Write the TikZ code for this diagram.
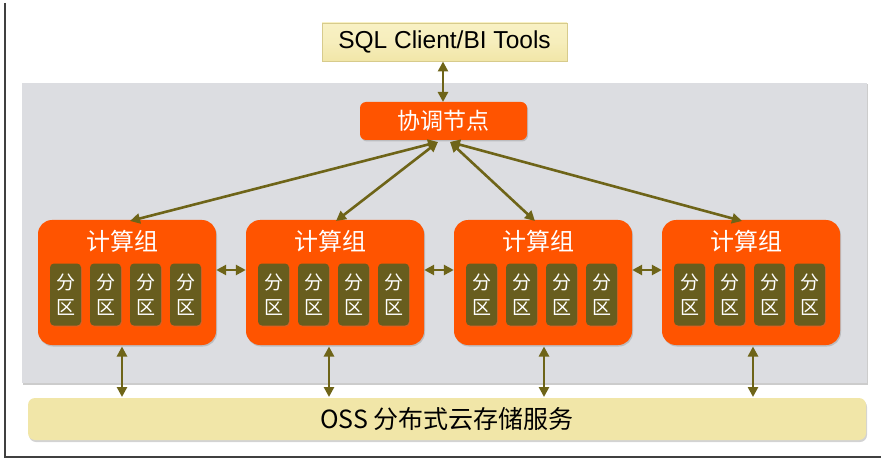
\documentclass[tikz,border=0pt]{standalone}
\usepackage{fontspec}
\setmainfont{Liberation Sans}
\newfontfamily\cjk{Noto Sans CJK SC}
\usetikzlibrary{arrows.meta,shadows,calc}
\definecolor{orng}{RGB}{255,84,0}
\definecolor{olivebox}{RGB}{104,93,30}
\definecolor{arrowc}{RGB}{110,100,24}
\definecolor{bandgray}{RGB}{220,221,225}
\definecolor{cream}{RGB}{241,230,168}
\definecolor{creamtop}{RGB}{248,241,196}
\definecolor{creamedge}{RGB}{215,203,140}
\tikzset{
  orangebox/.style={fill=orng, rounded corners=#1, draw=none,
    drop shadow={shadow xshift=1pt, shadow yshift=-1.5pt, opacity=0.35}},
  partbox/.style={fill=olivebox, rounded corners=4pt, minimum width=31pt, minimum height=62pt,
    inner sep=0pt, text=white, font=\cjk\fontsize{19}{25}\selectfont, align=center,
    drop shadow={shadow xshift=0.8pt, shadow yshift=-1pt, opacity=0.3}},
  link/.style={draw=arrowc, line width=2.6pt,
    {Triangle[width=10pt,length=10pt]}-{Triangle[width=10pt,length=10pt]}},
  grouptitle/.style={text=white, font=\cjk\fontsize{24}{24}\selectfont, inner sep=0pt},
}
\begin{document}
\begin{tikzpicture}[x=1pt,y=-1pt]
\useasboundingbox (0,0) rectangle (886,465);
% frame lines
\draw[line width=1.3pt, black!75] (5,3) -- (5,457) -- (881,457);
% gray band
\fill[bandgray, drop shadow={shadow xshift=1pt, shadow yshift=-1.5pt, opacity=0.4}] (22,83) rectangle (867,383);
% SQL box
\node[draw=creamedge, top color=creamtop, bottom color=cream, middle color=creamtop!70!cream,
  minimum width=245pt, minimum height=38pt, inner sep=0pt,
  font=\fontsize{24.5}{24.5}\selectfont,
  drop shadow={shadow xshift=1pt, shadow yshift=-1.5pt, opacity=0.3}]
  (sql) at (444.5,42) {SQL Client/BI Tools};
% coordinator
\node[orangebox=6pt, minimum width=167pt, minimum height=38pt, inner sep=0pt,
  text=white, font=\cjk\fontsize{23}{23}\selectfont] (coord) at (443.5,121) {协调节点};
% OSS
\node[fill=cream, rounded corners=7pt, minimum width=838pt, minimum height=42pt, inner sep=0pt,
  font=\cjk\fontsize{25}{25}\selectfont,
  drop shadow={shadow xshift=1pt, shadow yshift=-2pt, opacity=0.35}]
  (oss) at (447,419) {OSS 分布式云存储服务};
% groups
\foreach \i/\cx in {1/127,2/335,3/543,4/751}{
  \node[orangebox=14pt, minimum width=178pt, minimum height=125pt, inner sep=0pt] (g\i) at (\cx,282.5) {};
  \node[grouptitle] (t\i) at (\cx-5,241) {计算组};
  \foreach \j/\dx in {1/-60,2/-20,3/20,4/60}{
    \node[partbox] (p\i\j) at (\cx+\dx-1.5,294.5) {分\\区};
  }
}
% coordinates for connectors
\coordinate (sqlb) at (443,61.5);
\coordinate (coordt) at (443,102);
\coordinate (cl) at (438,142);
\coordinate (cr) at (450,142);
\coordinate (g1t) at (130,221);
\coordinate (g2t) at (336,221);
\coordinate (g3t) at (535,221);
\coordinate (g4t) at (742,221);
\draw[link] (sqlb) -- (coordt);
\draw[link] (cl) -- (g1t);
\draw[link] (cl) -- (g2t);
\draw[link] (cr) -- (g3t);
\draw[link] (cr) -- (g4t);
% horizontal links between groups
\draw[link] (g1.east |- 0,270) -- (g2.west |- 0,270);
\draw[link] (g2.east |- 0,270) -- (g3.west |- 0,270);
\draw[link] (g3.east |- 0,270) -- (g4.west |- 0,270);
% vertical links to OSS
\foreach \i/\x in {1/122,2/329,3/544,4/753}{
  \draw[link] (\x,346.5) -- (\x,397);
}
\end{tikzpicture}
\end{document}
